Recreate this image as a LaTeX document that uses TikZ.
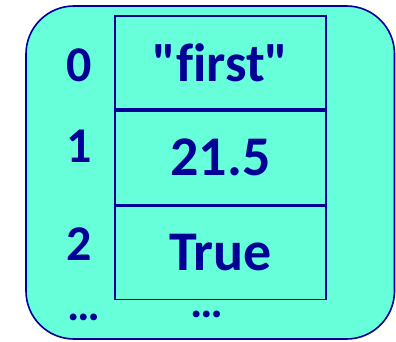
\documentclass[tikz,border=0pt]{standalone}
\usepackage{fontspec}
\setmainfont{Carlito}[Ligatures={TeXOff,NoCommon}]
\usepackage{tikz}
\usetikzlibrary{positioning}
\definecolor{aqua}{RGB}{102,255,218}
\definecolor{navy}{RGB}{0,0,150}

\begin{document}
\begin{tikzpicture}[x=1pt,y=1pt,font=\bfseries,
  cell/.style={draw=navy,line width=1.6pt,minimum width=211pt,minimum height=93.5pt,inner sep=0pt,text=navy,font=\fontsize{56}{60}\bfseries\selectfont},
  idx/.style={text=navy,font=\fontsize{50}{54}\bfseries\selectfont},
  dots/.style={text=navy,font=\fontsize{46}{50}\bfseries\selectfont}]
\useasboundingbox (0,0) rectangle (396,341);
\draw[navy,fill=aqua,line width=1.6pt,rounded corners=48pt] (26,2) rectangle (394.5,335);
\node[cell] (cell0) at (220.5,278.5) {\fontsize{54}{58}\selectfont"first"};
\node[cell,below=0pt of cell0] (cell1) {21.5};
\node[cell,below=0pt of cell1] (cell2) {True};
\node[idx] (idx0) at (79,276) {0};
\node[idx] (idx1) at (79,195) {1};
\node[idx] (idx2) at (79,97) {2};
\node[dots] (more0) at (84,24) {…};
\node[dots] (more1) at (207,27) {…};
\end{tikzpicture}
\end{document}
